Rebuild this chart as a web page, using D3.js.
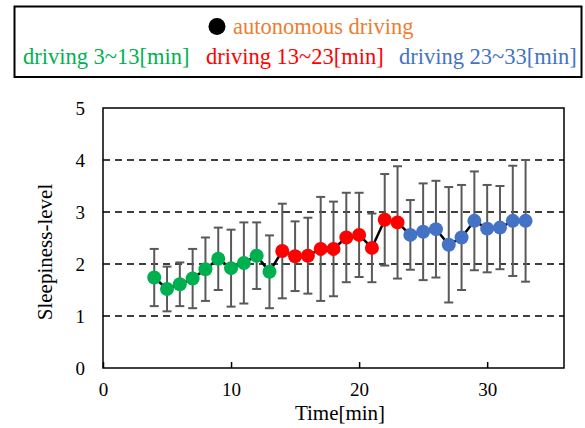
<!DOCTYPE html>
<html>
<head>
<meta charset="utf-8">
<script src="https://cdn.jsdelivr.net/npm/d3@7"></script>
<style>
  body { margin: 0; background: #fff; }
  svg text { font-family: "Liberation Serif", "Times New Roman", serif; font-weight: normal; }
</style>
</head>
<body>
<svg width="585" height="428"></svg>
<script>
// time in minutes
var times = [4, 5, 6, 7, 8, 9, 10, 11, 12, 13, 14, 15, 16, 17, 18, 19, 20, 21, 22, 23, 24, 25, 26, 27, 28, 29, 30, 31, 32, 33];
// mean sleepiness level
var means = [1.74, 1.52, 1.61, 1.72, 1.90, 2.10, 1.92, 2.02, 2.16, 1.85, 2.25, 2.15, 2.16, 2.29, 2.29, 2.51, 2.56, 2.31, 2.85, 2.80,
    2.56, 2.62, 2.67, 2.37, 2.51, 2.83, 2.68, 2.70, 2.83, 2.83];
// standard deviation (error bars)
var sds = [0.55, 0.43, 0.42, 0.57, 0.61, 0.60, 0.74, 0.78, 0.64, 0.70, 0.91, 0.67, 0.73, 1.00, 0.91, 0.86, 0.81, 0.66, 0.88, 1.08,
    0.67, 0.93, 0.93, 1.11, 1.01, 0.95, 0.84, 0.80, 1.06, 1.17];
var groups = ["driving 3~13[min]", "driving 13~23[min]", "driving 23~33[min]"];
var groupColors = ["#00b050", "#ff0000", "#4472c4"];
var xTicks = [0, 10, 20, 30];
var yTicks = [0, 1, 2, 3, 4, 5];

function groupOf(t) {
    if (t <= 13) return 0;
    if (t <= 23) return 1;
    return 2;
}

var points = times.map(function(t, i) {
    return { t: t, m: means[i], sd: sds[i], g: groupOf(t) };
});

var svg = d3.select("svg");
var serif = "'Liberation Serif', 'Times New Roman', serif";

var x = d3.scaleLinear().domain([0, 36]).range([103, 564]);
var y = d3.scaleLinear().domain([0, 5]).range([368, 108]);

// legend box
svg.append("rect")
    .attr("x", 14.5).attr("y", 6.5).attr("width", 567).attr("height", 70.5)
    .style("fill", "none").style("stroke", "#000").style("stroke-width", 2);

svg.append("circle")
    .attr("cx", 217).attr("cy", 26.5).attr("r", 8.5)
    .style("fill", "#000");
svg.append("text")
    .attr("x", 233).attr("y", 34)
    .attr("font-family", serif)
    .style("font-size", "22.5px").style("fill", "#ed7d31")
    .text("autonomous driving");

var legendX = [23, 206, 399];
svg.selectAll("text.grp")
    .data(groups)
    .enter()
    .append("text")
    .attr("class", "grp")
    .attr("x", function(d, i) { return legendX[i]; })
    .attr("y", 64)
    .attr("font-family", serif)
    .style("font-size", "22.5px")
    .style("fill", function(d, i) { return groupColors[i]; })
    .text(function(d) { return d; });

// gridlines
svg.selectAll("line.grid")
    .data([1, 2, 3, 4])
    .enter()
    .append("line")
    .attr("class", "grid")
    .attr("x1", x(0)).attr("x2", x(36))
    .attr("y1", function(d) { return y(d); })
    .attr("y2", function(d) { return y(d); })
    .style("stroke", "#000")
    .style("stroke-width", 1.5)
    .style("stroke-dasharray", "7,5");

// axes
var xAxis = svg.append("g")
    .attr("transform", "translate(0," + y(0) + ")")
    .call(d3.axisBottom(x).tickValues(xTicks).tickSizeInner(-6).tickSizeOuter(0).tickPadding(15));
xAxis.select(".domain").remove();
xAxis.selectAll("line").style("stroke", "#000").style("stroke-width", 1.5);
xAxis.selectAll("text").attr("font-family", serif).style("font-size", "19px").style("fill", "#000");

var yAxis = svg.append("g")
    .attr("transform", "translate(" + x(0) + ",0)")
    .call(d3.axisLeft(y).tickValues(yTicks).tickFormat(d3.format("d")).tickSize(0).tickPadding(18));
yAxis.select(".domain").remove();
yAxis.selectAll("text").attr("font-family", serif).style("font-size", "19px").style("fill", "#000");

// plot frame
svg.append("rect")
    .attr("x", x(0)).attr("y", y(5))
    .attr("width", x(36) - x(0)).attr("height", y(0) - y(5))
    .style("fill", "none").style("stroke", "#000").style("stroke-width", 1.5);

// axis titles
svg.append("text")
    .attr("x", 340).attr("y", 420)
    .attr("text-anchor", "middle")
    .attr("font-family", serif)
    .style("font-size", "21px")
    .text("Time[min]");
svg.append("text")
    .attr("transform", "translate(52,252) rotate(-90)")
    .attr("text-anchor", "middle")
    .attr("font-family", serif)
    .style("font-size", "21px")
    .text("Sleepiness-level");

// error bars
var eb = svg.append("g").style("stroke", "#595959").style("stroke-width", 2);
eb.selectAll("line.v")
    .data(points)
    .enter()
    .append("line")
    .attr("class", "v")
    .attr("x1", function(d) { return x(d.t); })
    .attr("x2", function(d) { return x(d.t); })
    .attr("y1", function(d) { return y(d.m - d.sd); })
    .attr("y2", function(d) { return y(d.m + d.sd); });
eb.selectAll("line.top")
    .data(points)
    .enter()
    .append("line")
    .attr("class", "top")
    .attr("x1", function(d) { return x(d.t) - 4.5; })
    .attr("x2", function(d) { return x(d.t) + 4.5; })
    .attr("y1", function(d) { return y(d.m + d.sd); })
    .attr("y2", function(d) { return y(d.m + d.sd); });
eb.selectAll("line.bot")
    .data(points)
    .enter()
    .append("line")
    .attr("class", "bot")
    .attr("x1", function(d) { return x(d.t) - 4.5; })
    .attr("x2", function(d) { return x(d.t) + 4.5; })
    .attr("y1", function(d) { return y(d.m - d.sd); })
    .attr("y2", function(d) { return y(d.m - d.sd); });

// connecting line
var line = d3.line()
    .x(function(d) { return x(d.t); })
    .y(function(d) { return y(d.m); });
svg.append("path")
    .datum(points)
    .attr("d", line)
    .style("fill", "none")
    .style("stroke", "#000")
    .style("stroke-width", 2.5);

// markers
svg.selectAll("circle.pt")
    .data(points)
    .enter()
    .append("circle")
    .attr("class", "pt")
    .attr("cx", function(d) { return x(d.t); })
    .attr("cy", function(d) { return y(d.m); })
    .attr("r", 7)
    .style("fill", function(d) { return groupColors[d.g]; });
</script>
</body>
</html>
